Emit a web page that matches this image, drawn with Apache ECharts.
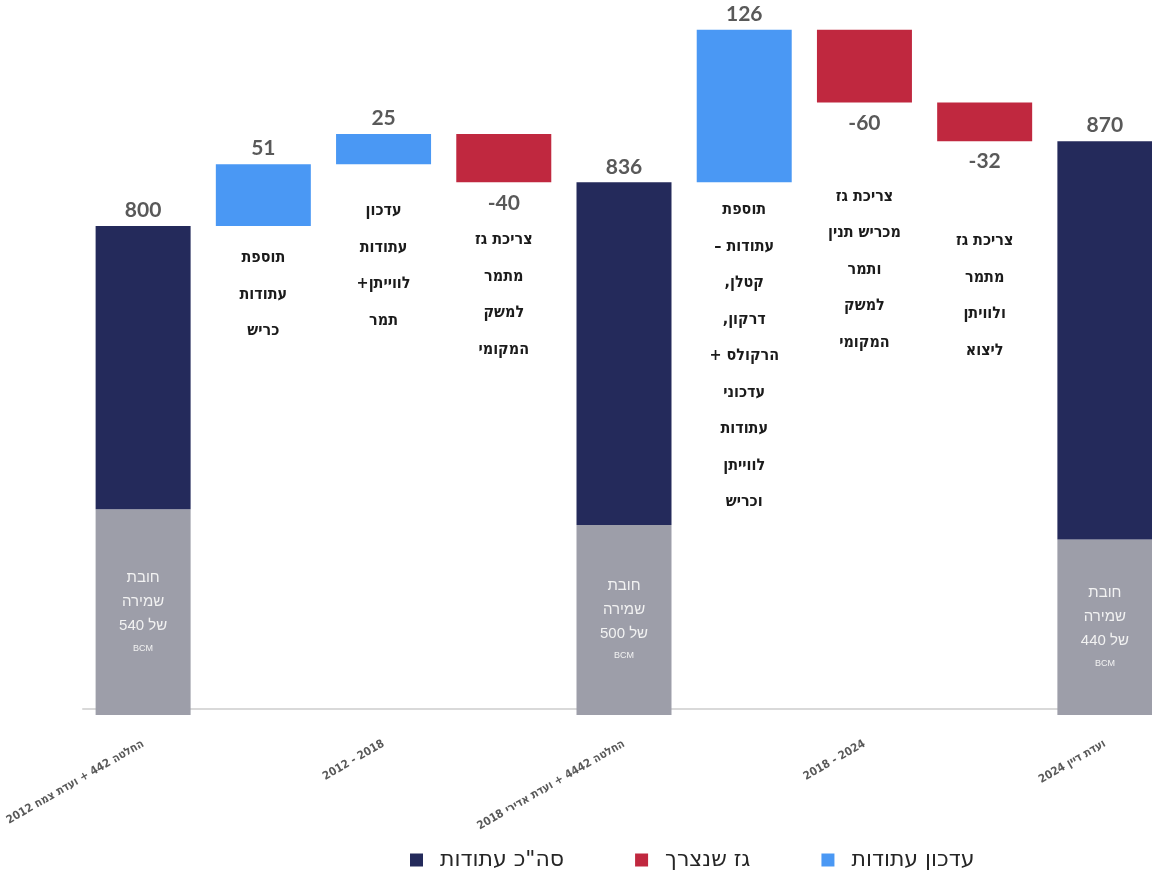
<!DOCTYPE html>
<html><head><meta charset="utf-8">
<script src="https://cdn.jsdelivr.net/npm/echarts@6/dist/echarts.min.js"></script>
<style>html,body{margin:0;padding:0;background:#fff}#c{width:1152px;height:870px}</style>
</head><body><div id="c"></div>
<script>
// ---- data ----
const categories = ['החלטה 442 + ועדת צמח 2012', '', '2012 - 2018', '', 'החלטה 4442 + ועדת אדירי 2018', '', '2018 - 2024', '', 'ועדת דיין 2024'];
const totals = [800, null, null, null, 836, null, null, null, 870];
const changes = [null, 51, 25, -40, null, 126, -60, -32, null];
const reserveTop = [566, null, null, null, 553, null, null, null, 541]; // top of grey part
const reserveBCM = [540, null, null, null, 500, null, null, null, 440];
const notes = [
  null,
  'תוספת\nעתודות\nכריש',
  'עדכון\nעתודות\nלווייתן+\nתמר',
  'צריכת גז\nמתמר\nלמשק\nהמקומי',
  null,
  'תוספת\nעתודות –\nקטלן,\nדרקון,\nהרקולס +\nעדכוני\nעתודות\nלווייתן\nוכריש',
  'צריכת גז\nמכריש תנין\nותמר\nלמשק\nהמקומי',
  'צריכת גז\nמתמר\nולוויתן\nליצוא',
  null
];
const nameTotal = 'סה"כ עתודות';
const nameUsed = 'גז שנצרך';
const nameUpdate = 'עדכון עתודות';
const reserveWords = ['חובת', 'שמירה', 'של'];

// ---- layout / style ----
const noteGap = [0, 13.7, 28.7, 39.7, 0, 9.7, 75.7, 81.7, 0];
const C = {dark: '#242a5b', grey: '#9d9ea9', blue: '#4a98f4', red: '#c0283f', val: '#595959'};
const RLM = '\u200F';
const rtl = s => s.split('\n').map(l => RLM + l + RLM).join('\n');

const base = [], grey = [], dark = [], up = [], down = [];
let run = 0;
for (let i = 0; i < categories.length; i++) {
  if (totals[i] != null) {
    run = totals[i];
    base.push('-'); grey.push(reserveTop[i]); dark.push(totals[i] - reserveTop[i]); up.push('-'); down.push('-');
  } else {
    const c = changes[i];
    if (c >= 0) { base.push(run); up.push(c); down.push('-'); run += c; }
    else { run += c; base.push(run); down.push(-c); up.push('-'); }
    grey.push('-'); dark.push('-');
  }
}
const baseData = base.map((v, i) => v === '-' ? '-' : {value: v, label: {show: true, distance: noteGap[i]}});

const valFont = {color: C.val, fontSize: 21, fontWeight: 'bold', fontFamily: 'Lato, "Open Sans", sans-serif'};

const chart = echarts.init(document.getElementById('c'));
chart.setOption({
  animation: false,
  grid: {left: 83, width: 1082, top: 25, bottom: 155, containLabel: false, outerBoundsMode: 'none'},
  legend: {
    data: [nameTotal, nameUsed, nameUpdate],
    left: 405, top: 844, icon: 'rect', itemWidth: 13, itemHeight: 13, itemGap: 71,
    textStyle: {fontSize: 22, color: '#262626', fontFamily: '"DejaVu Sans", "Liberation Sans", sans-serif', padding: [0, 0, 0, 12]}
  },
  xAxis: {
    type: 'category', data: categories, offset: -6,
    axisTick: {show: false},
    axisLine: {lineStyle: {color: '#d9d9d9', width: 2}},
    axisLabel: {interval: 0, rotate: 30, margin: 34, color: '#595959', fontSize: 11.5, fontWeight: 'bold',
      fontFamily: '"DejaVu Sans Condensed", "DejaVu Sans", sans-serif'}
  },
  yAxis: {type: 'value', min: 396, max: 966, show: false},
  series: [
    {name: 'base', type: 'bar', stack: 'w', barWidth: 95, silent: true, data: baseData,
      itemStyle: {color: 'transparent'},
      label: {show: false, position: 'insideTop', color: '#1b1b1b', fontSize: 16, fontWeight: 'bold', lineHeight: 36.5,
        fontFamily: '"DejaVu Sans Condensed", "DejaVu Sans", sans-serif',
        formatter: p => notes[p.dataIndex] ? rtl(notes[p.dataIndex]) : ''}},
    {name: 'חובת שמירה', type: 'bar', stack: 'w', barWidth: 95, data: grey, itemStyle: {color: C.grey},
      label: {show: true, position: 'inside',
        formatter: p => '{a|' + reserveWords[0] + '}\n{a|' + reserveWords[1] + '}\n{a|' + reserveWords[2] + ' ' + reserveBCM[p.dataIndex] + '}\n{b|BCM}',
        rich: {a: {color: '#f2f2f2', fontSize: 15, lineHeight: 24, fontFamily: '"Liberation Sans", sans-serif'},
               b: {color: '#f2f2f2', fontSize: 9, lineHeight: 20, fontFamily: '"Liberation Sans", sans-serif'}}}},
    {name: nameTotal, type: 'bar', stack: 'w', barWidth: 95, data: dark, itemStyle: {color: C.dark},
      label: Object.assign({show: true, position: 'top', distance: 5, formatter: p => String(totals[p.dataIndex])}, valFont)},
    {name: nameUpdate, type: 'bar', stack: 'w', barWidth: 95, data: up, itemStyle: {color: C.blue},
      label: Object.assign({show: true, position: 'top', distance: 5, formatter: p => String(changes[p.dataIndex])}, valFont)},
    {name: nameUsed, type: 'bar', stack: 'w', barWidth: 95, data: down, itemStyle: {color: C.red},
      label: Object.assign({show: true, position: 'bottom', distance: 10, formatter: p => String(changes[p.dataIndex])}, valFont)}
  ]
});
</script></body></html>
